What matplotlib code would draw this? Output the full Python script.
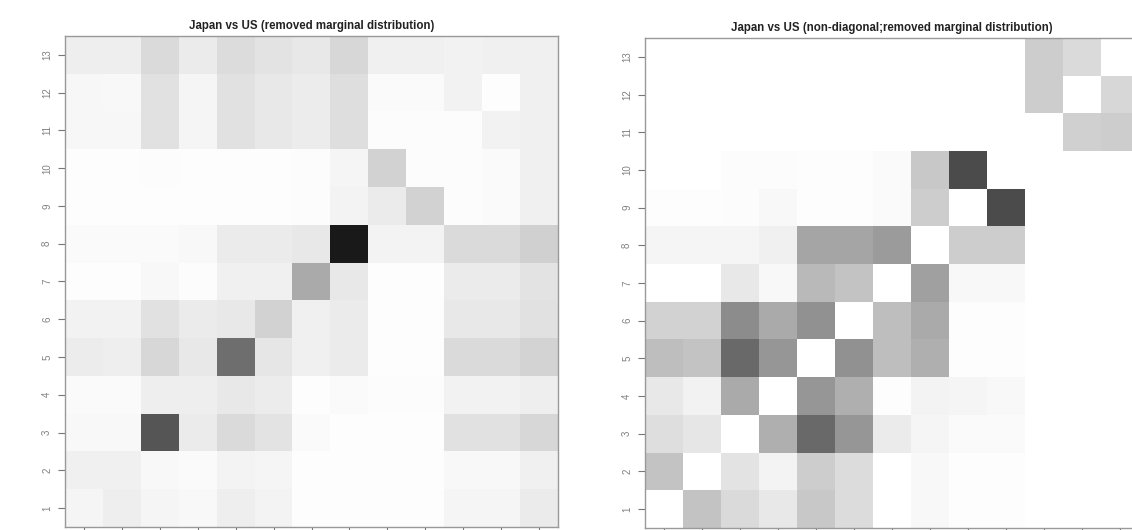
import matplotlib
matplotlib.use("Agg")
import matplotlib.pyplot as plt
import numpy as np

plt.rcParams['font.family'] = ['Liberation Sans', 'DejaVu Sans']

# grey level of each cell (0 = black, 255 = white), rows listed from 13 (top) down to 1
labels = list(range(1, 14))

removed_marginal = [
    [238, 238, 218, 235, 220, 228, 232, 215, 240, 240, 242, 240, 240],  # 13
    [247, 248, 225, 245, 225, 232, 236, 222, 250, 250, 242, 253, 240],  # 12
    [247, 247, 225, 245, 225, 232, 236, 222, 252, 252, 252, 242, 240],  # 11
    [253, 253, 252, 253, 253, 253, 252, 245, 210, 252, 252, 250, 240],  # 10
    [253, 253, 253, 253, 253, 253, 252, 244, 235, 210, 252, 250, 240],  # 9
    [250, 250, 250, 248, 235, 235, 232, 25, 243, 243, 218, 218, 208],   # 8
    [253, 253, 248, 252, 240, 240, 170, 232, 253, 253, 235, 235, 228],  # 7
    [242, 242, 225, 235, 232, 210, 240, 235, 253, 253, 232, 232, 225],  # 6
    [236, 238, 215, 232, 110, 230, 240, 235, 253, 253, 218, 218, 212],  # 5
    [250, 250, 238, 238, 232, 236, 253, 250, 252, 252, 242, 242, 238],  # 4
    [248, 248, 85, 235, 218, 228, 250, 253, 253, 253, 225, 225, 215],   # 3
    [240, 240, 248, 250, 243, 245, 253, 253, 253, 253, 248, 248, 240],  # 2
    [245, 238, 245, 248, 238, 243, 253, 253, 253, 253, 245, 245, 235],  # 1
]

non_diagonal = [
    [255, 255, 255, 255, 255, 255, 255, 255, 255, 255, 205, 218, 255],  # 13
    [255, 255, 255, 255, 255, 255, 255, 255, 255, 255, 205, 255, 215],  # 12
    [255, 255, 255, 255, 255, 255, 255, 255, 255, 255, 255, 208, 205],  # 11
    [255, 255, 252, 252, 253, 253, 250, 200, 75, 255, 255, 255, 255],   # 10
    [253, 253, 252, 248, 253, 253, 250, 205, 255, 75, 255, 255, 255],   # 9
    [245, 245, 245, 240, 165, 165, 155, 255, 205, 205, 255, 255, 255],  # 8
    [255, 255, 232, 248, 185, 195, 255, 160, 248, 248, 255, 255, 255],  # 7
    [210, 210, 140, 170, 145, 255, 190, 170, 253, 253, 255, 255, 255],  # 6
    [190, 195, 105, 150, 255, 145, 190, 175, 253, 253, 255, 255, 255],  # 5
    [232, 242, 170, 255, 150, 175, 253, 243, 245, 248, 255, 255, 255],  # 4
    [222, 230, 255, 175, 105, 150, 235, 245, 250, 250, 255, 255, 255],  # 3
    [195, 255, 228, 243, 205, 220, 255, 248, 253, 253, 255, 255, 255],  # 2
    [255, 195, 218, 232, 200, 220, 255, 248, 253, 253, 255, 255, 255],  # 1
]

titles = ["Japan vs US (removed marginal distribution)",
          "Japan vs US (non-diagonal;removed marginal distribution)"]

fig = plt.figure(figsize=(11.32, 5.30), dpi=100)
ax1 = fig.add_axes([65 / 1132, 3 / 530, 493 / 1132, 491 / 530])
ax2 = fig.add_axes([645 / 1132, 2 / 530, 494 / 1132, 490 / 530])

for ax, mat, title in zip([ax1, ax2], [removed_marginal, non_diagonal], titles):
    ax.imshow(np.array(mat), cmap='gray', vmin=0, vmax=255, aspect='auto',
              interpolation='nearest', origin='upper',
              extent=(0.5, 13.5, 0.5, 13.5))
    ax.set_xlim(0.5, 13.5)
    ax.set_ylim(0.5, 13.5)
    ax.set_yticks(labels)
    ax.set_yticklabels([str(v) for v in labels], rotation=90, va='center',
                       fontsize=7, color='#808080')
    ax.set_xticks(labels)
    ax.set_xticklabels([])
    ax.tick_params(length=5, width=0.8, color='#777777', pad=4.3)
    for s in ax.spines.values():
        s.set_color('#999999')
        s.set_linewidth(1)
    ax.set_title(title, fontsize=8.3, fontweight='bold', color='#222222', pad=5)

fig.savefig("out.png", dpi=100)
